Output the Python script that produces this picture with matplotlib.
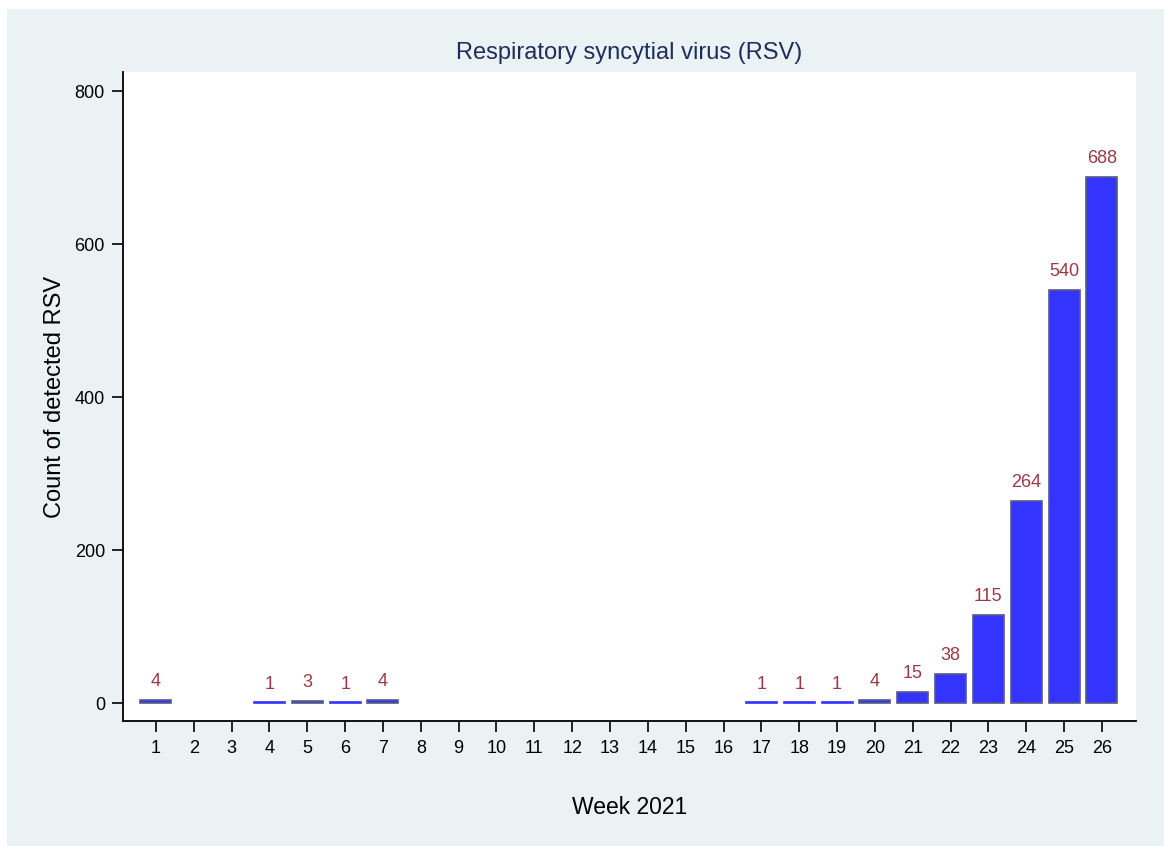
import matplotlib
matplotlib.use("Agg")
import matplotlib.pyplot as plt
from matplotlib.patches import Rectangle

weeks = list(range(1, 27))
counts = [4, 0, 0, 1, 3, 1, 4, 0, 0, 0, 0, 0, 0, 0, 0, 0,
          1, 1, 1, 4, 15, 38, 115, 264, 540, 688]
yticks = [0, 200, 400, 600, 800]

W, H = 1164, 846
fig = plt.figure(figsize=(W / 100, H / 100), dpi=100, facecolor="white")
plt.rcParams['font.family'] = ['Liberation Sans', 'DejaVu Sans']

bg = Rectangle((7 / W, 0), 1 - 7 / W, 1 - 9 / H, transform=fig.transFigure,
               facecolor="#eaf2f3", edgecolor="none", zorder=-10)
fig.patches.append(bg)

left, right, top, bottom = 123, 1136, 72, 721
ax = fig.add_axes([left / W, 1 - bottom / H, (right - left) / W, (bottom - top) / H])
ax.set_facecolor("white")

for s in ["top", "right"]:
    ax.spines[s].set_visible(False)
for s in ["left", "bottom"]:
    ax.spines[s].set_linewidth(1.3)
    ax.spines[s].set_color("black")

bars = ax.bar(weeks, counts, width=0.82, color="#3434ff", edgecolor="#555a88", linewidth=1.2)
for b, w, c in zip(bars, weeks, counts):
    if c == 0:
        b.set_visible(False)
    elif c == 1:
        b.set_edgecolor("#3434ff")
    if c > 0:
        ax.annotate(str(c), (w, c), xytext=(0, 7), textcoords="offset points",
                    ha="center", va="bottom", color="#9b3a44", fontsize=13)

ax.set_xlim(0.13, 26.9)
ax.set_ylim(-23.5, 825)
ax.set_xticks(weeks)
ax.set_xticklabels([str(w) for w in weeks])
ax.set_yticks(yticks)
ax.set_yticklabels([str(v) for v in yticks])
ax.tick_params(axis="both", direction="out", length=8, width=1.2, labelsize=13, colors="black")
ax.tick_params(axis="x", pad=6)
ax.tick_params(axis="y", pad=5)

ax.set_title("Respiratory syncytial virus (RSV)", color="#1e2d5c", fontsize=17, pad=9)
ax.set_ylabel("Count of detected RSV", fontsize=17, labelpad=6)
ax.set_xlabel("Week 2021", fontsize=16.5, labelpad=28)

fig.savefig("out.png", dpi=100, facecolor=fig.get_facecolor())
